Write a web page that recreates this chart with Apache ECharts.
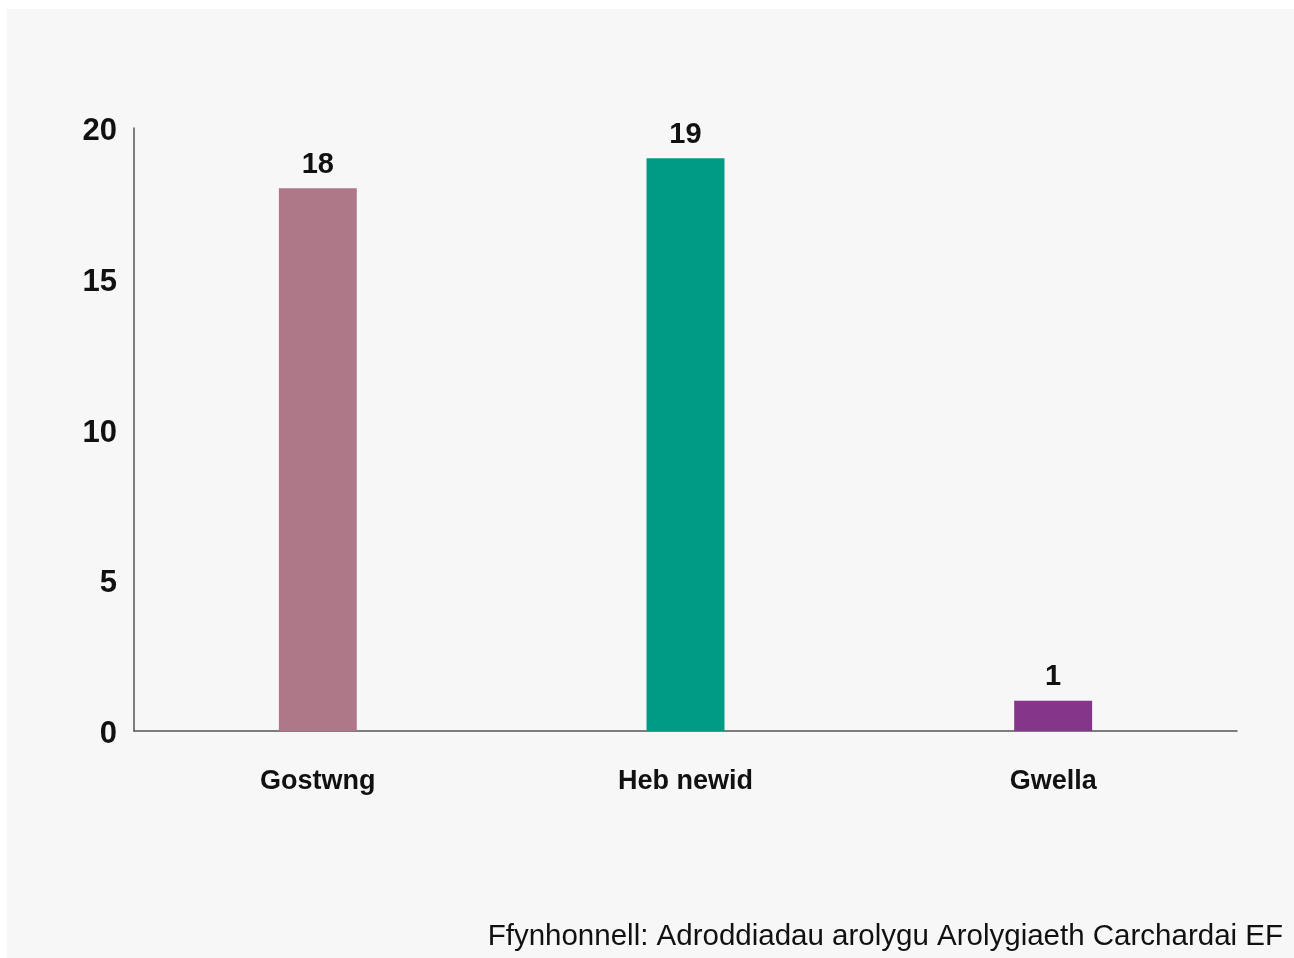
<!DOCTYPE html>
<html>
<head>
<meta charset="utf-8">
<script src="https://cdn.jsdelivr.net/npm/echarts@6/dist/echarts.min.js"></script>
<style>
html,body{margin:0;padding:0;background:#ffffff;}
#chart{width:1294px;height:958px;}
</style>
</head>
<body>
<div id="chart"></div>
<script>
const categories = ['Gostwng', 'Heb newid', 'Gwella'];
const values = [18, 19, 1];
const barColors = ['#ae7889', '#009b84', '#85368a'];
const yTicks = [0, 5, 10, 15, 20];
const sourceText = 'Ffynhonnell: Adroddiadau arolygu Arolygiaeth Carchardai EF';

const chart = echarts.init(document.getElementById('chart'));
chart.setOption({
  backgroundColor: '#ffffff',
  animation: false,
  graphic: [
    { type: 'rect', left: 7, top: 9, shape: { width: 1287, height: 949 }, style: { fill: '#f7f7f7' }, z: -10 },
    { type: 'text', right: 11, top: 922, style: { text: sourceText, font: '29.5px "Liberation Sans", Arial, sans-serif', fill: '#111111' } }
  ],
  grid: { left: 134, right: 57, top: 128, bottom: 227 },
  xAxis: {
    type: 'category',
    data: categories,
    axisLine: { lineStyle: { color: '#555555', width: 1.5 } },
    axisTick: { show: false },
    axisLabel: { margin: 37, color: '#111111', fontSize: 27, fontWeight: 'bold', fontFamily: '"Liberation Sans", Arial, sans-serif' }
  },
  yAxis: {
    type: 'value',
    min: yTicks[0],
    max: yTicks[yTicks.length - 1],
    interval: 5,
    splitLine: { show: false },
    axisLine: { show: true, lineStyle: { color: '#555555', width: 1.5 } },
    axisTick: { show: false },
    axisLabel: {
      margin: 17,
      formatter: '{t|{value}}',
      rich: { t: { padding: [7, 0, 0, 0], color: '#111111', fontSize: 31, fontWeight: 'bold', fontFamily: '"Liberation Sans", Arial, sans-serif' } }
    }
  },
  series: [{
    type: 'bar',
    data: values.map((v, i) => ({ value: v, itemStyle: { color: barColors[i] } })),
    barWidth: '21.2%',
    label: { show: true, position: 'top', distance: 9, color: '#111111', fontSize: 29, fontWeight: 'bold', fontFamily: '"Liberation Sans", Arial, sans-serif' }
  }]
});
</script>
</body>
</html>
